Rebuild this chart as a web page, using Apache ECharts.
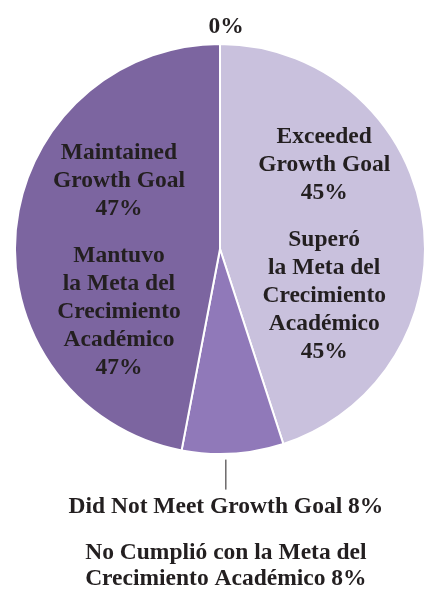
<!DOCTYPE html>
<html>
<head>
<meta charset="utf-8">
<script src="https://cdn.jsdelivr.net/npm/echarts@6/dist/echarts.min.js"></script>
<style>
    html, body { margin: 0; padding: 0; background: #fff; }
    #main { width: 425px; height: 590px; }
</style>
</head>
<body>
<div id="main"></div>
<script>
// slices run clockwise from 12 o'clock
const enLabels = ['', 'Exceeded\nGrowth Goal', 'Did Not Meet Growth Goal', 'Maintained\nGrowth Goal']
const esLabels = ['', 'Superó\nla Meta del\nCrecimiento\nAcadémico', 'No Cumplió con la Meta del\nCrecimiento Académico', 'Mantuvo\nla Meta del\nCrecimiento\nAcadémico']
const percents = [0, 45, 8, 47]
const sliceColors = ['#ffffff', '#c9c1dd', '#9079b9', '#7c65a0']

const labelText = (p) => {
    let i = p.dataIndex
    let v = percents[i] + '%'
    if (i === 0) return v
    if (i === 2) return enLabels[i] + ' ' + v + '\n{g| }\n' + esLabels[i] + ' ' + v
    return enLabels[i] + '\n' + v + '\n{g| }\n' + esLabels[i] + '\n' + v
}

const textStyle = {
    fontFamily: 'Liberation Serif',
    fontWeight: 'bold',
    fontSize: 23.5,
    color: '#231f20',
    textBorderWidth: 0
}

let data = percents.map((val, i) => {
    let item = {
        name: enLabels[i] || 'None',
        value: val,
        itemStyle: { color: sliceColors[i] }
    }
    if (i === 0) {
        item.label = { position: 'outside', distanceToLabelLine: 0 }
        item.labelLine = { show: false, length: 17, length2: 0 }
    } else if (i === 2) {
        item.label = { position: 'outside', lineHeight: 26, distanceToLabelLine: 0, rich: { g: { lineHeight: 20, fontSize: 10 } } }
        item.labelLine = { show: true, length: 30, length2: 0, lineStyle: { color: '#231f20', width: 1 } }
    } else {
        item.label = { position: 'inside', lineHeight: 28, rich: { g: { lineHeight: 19, fontSize: 10 } } }
    }
    return item
})

let chart = echarts.init(document.getElementById('main'))
chart.setOption({
    animation: false,
    backgroundColor: '#ffffff',
    series: [{
        type: 'pie',
        center: [220, 249],
        radius: 205,
        startAngle: 90,
        clockwise: true,
        minAngle: 0,
        avoidLabelOverlap: false,
        itemStyle: { borderColor: '#ffffff', borderWidth: 2 },
        label: Object.assign({ show: true, formatter: labelText }, textStyle),
        emphasis: { disabled: true },
        data: data,
        labelLayout: (p) => {
            if (p.dataIndex === 0) return { align: 'center', dx: 6 }
            if (p.dataIndex === 1) return { dy: 12 }
            if (p.dataIndex === 3) return { dx: 4, dy: 21 }
            // bottom callout: straight vertical leader, text centred under it
            let pts = p.labelLinePoints
            let x = pts[0][0] - 7
            let y = pts[0][1]
            return {
                x: x,
                y: y + 40,
                align: 'center',
                verticalAlign: 'top',
                labelLinePoints: [[x, y + 6], [x, y + 36], [x, y + 36]]
            }
        }
    }]
})
</script>
</body>
</html>
